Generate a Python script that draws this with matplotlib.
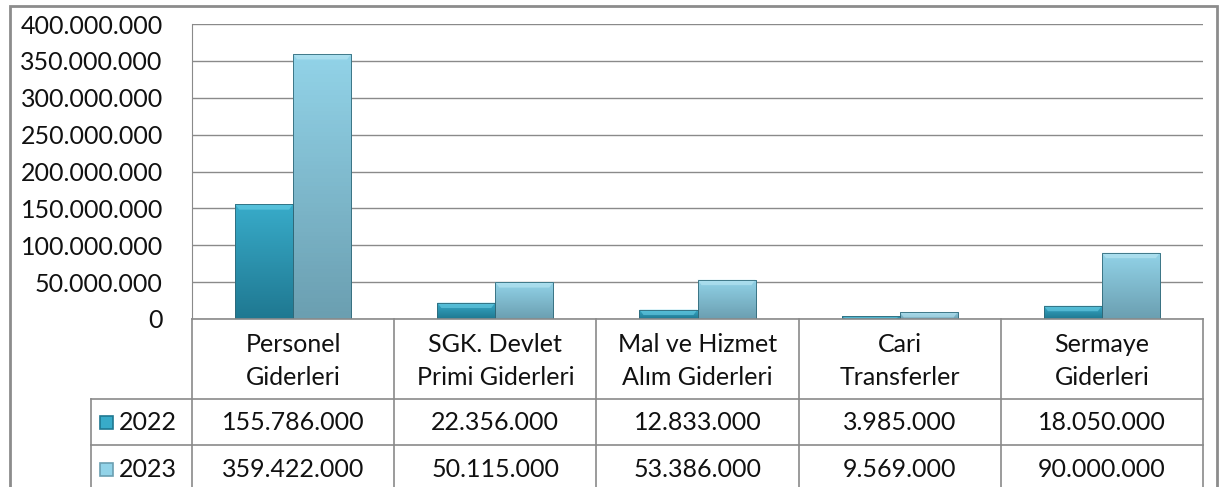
import numpy as np
import matplotlib.pyplot as plt
from matplotlib.patches import Rectangle
import matplotlib.colors as mcolors

plt.rcParams['font.family'] = ['Lato', 'DejaVu Sans']

categories = ["Personel\nGiderleri", "SGK. Devlet\nPrimi Giderleri", "Mal ve Hizmet\nAlım Giderleri",
              "Cari\nTransferler", "Sermaye\nGiderleri"]
years = ["2022", "2023"]
v2022 = [155786000, 22356000, 12833000, 3985000, 18050000]
v2023 = [359422000, 50115000, 53386000, 9569000, 90000000]

# top / bottom colours of the gradient fill, plus bevel colour
styles = {
    "2022": ("#38abc9", "#1f7891", "#6fd3ea"),
    "2023": ("#92d3e8", "#6b9fb1", "#bfe9f5"),
}

W, H = 1224, 487
FS = 18
fmt = lambda v: f"{v:,}".replace(",", ".")


def grad_bars(ax, x, vals, width, key):
    top, bot, bevel = styles[key]
    cmap = mcolors.LinearSegmentedColormap.from_list(key, [bot, top])
    bars = ax.bar(x, vals, width, color="none", edgecolor="#2f6878", linewidth=0.6, zorder=4)
    bev = 7.5e6
    for b in bars:
        x0, w, h = b.get_x(), b.get_width(), b.get_height()
        g = np.linspace(0, 1, 64).reshape(-1, 1)
        im = ax.imshow(g, extent=[x0, x0 + w, 0, h], origin="lower", cmap=cmap,
                       aspect="auto", zorder=3)
        im.set_clip_path(b)
        bh = min(h, bev)
        ax.fill([x0, x0 + w, x0 + w * 0.93, x0 + w * 0.07], [h, h, h - bh, h - bh],
                color=bevel, alpha=0.55, lw=0, zorder=3.5)
    return bars


fig = plt.figure(figsize=(W / 100, H / 100), dpi=100)

ax = fig.add_axes([192 / W, (H - 319) / H, (1203 - 192) / W, (319 - 24) / H])
x = np.arange(len(categories))
bw = 0.287
grad_bars(ax, x - bw / 2, v2022, bw, "2022")
grad_bars(ax, x + bw / 2, v2023, bw, "2023")
ax.set_xlim(-0.5, len(categories) - 0.5)
ax.set_ylim(0, 400_000_000)
ticks = np.arange(0, 400_000_001, 50_000_000)
ax.set_yticks(ticks)
ax.set_yticklabels([fmt(t) for t in ticks], fontsize=FS, color="#111111")
ax.tick_params(axis="y", length=0, pad=21)
ax.set_xticks([])
ax.grid(axis="y", color="#8a8a8a", linewidth=1)
ax.set_axisbelow(True)
for s in ["top", "right", "bottom"]:
    ax.spines[s].set_visible(False)
ax.spines["left"].set_color("#8a8a8a")

# data table under the plot
tb = fig.add_axes([91 / W, 0, (1203 - 91) / W, (H - 319) / H])
tb.set_xlim(-1.0, len(categories) - 0.5)
tb.set_ylim(H - 319, 0)
tb.axis("off")
lc = "#8a8a8a"
rows = [0, 80, 126, 175]
tb.plot([-0.5, len(categories) - 0.5], [rows[0]] * 2, color=lc, lw=1.2, clip_on=False)
for r in rows[1:3]:
    tb.plot([-1.0, len(categories) - 0.5], [r, r], color=lc, lw=1.2, clip_on=False)
for c in np.arange(-0.5, len(categories), 1.0):
    tb.plot([c, c], [0, 175], color=lc, lw=1.2, clip_on=False)
tb.plot([-1.0, -1.0], [rows[1], 175], color=lc, lw=1.2, clip_on=False)

for i, cat in enumerate(categories):
    tb.text(i, 42, cat, ha="center", va="center", fontsize=FS, linespacing=1.55, color="#111111")
for r, (yr, vals) in enumerate(zip(years, [v2022, v2023])):
    yc = (rows[r + 1] + rows[r + 2]) / 2
    for i, v in enumerate(vals):
        tb.text(i, yc, fmt(v), ha="center", va="center", fontsize=FS, color="#111111")
    top, bot, bevel = styles[yr]
    tb.add_patch(Rectangle((-0.955, yc + 6.5), 0.062, -13, facecolor=top, edgecolor=bot,
                           lw=1.2, clip_on=False))
    tb.text(-0.86, yc, yr, ha="left", va="center", fontsize=FS, color="#111111")

# outer chart border
fig.patches.append(Rectangle((10 / W, -0.05), (1217 - 10) / W, (H - 6) / H + 0.05,
                             transform=fig.transFigure, fill=False, edgecolor="#8c8c8c", lw=2))

fig.savefig("out.png", dpi=100)
